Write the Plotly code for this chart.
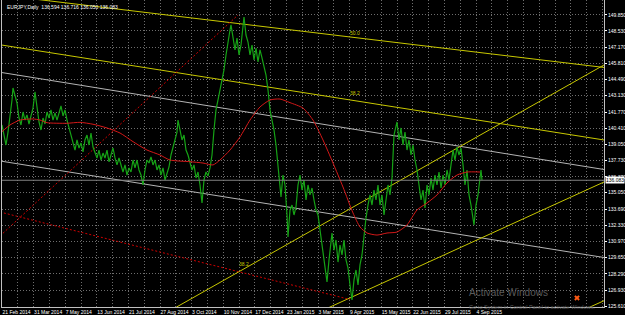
import plotly.graph_objects as go

# ---------------- data (bar index = trading day since 21 Feb 2014) ----------------
close_bars = [0, 2, 4, 6, 8, 10, 11, 13, 15, 17,
              19, 21, 23, 25, 27, 29, 31, 33, 35, 37,
              39, 41, 43, 45, 47, 49, 51, 53, 55, 57,
              59, 61, 63, 65, 67, 69, 71, 73, 75, 77,
              79, 81, 83, 85, 87, 89, 91, 93, 95, 97,
              99, 101, 103, 105, 107, 109, 111, 113, 115, 117,
              119, 121, 123, 125, 127, 129, 131, 133, 135, 137,
              139, 141, 143, 145, 147, 149, 151, 153, 155, 157,
              159, 161, 163, 165, 167, 169, 171, 173, 175, 176,
              178, 180, 182, 184, 186, 188, 190, 192, 194, 196,
              198, 200, 202, 204, 206, 208, 210, 212, 214, 216,
              218, 220, 222, 224, 226, 228, 229, 231, 233, 235,
              237, 239, 241, 242, 244, 246, 248, 250, 252, 254,
              256, 258, 260, 262, 264, 266, 268, 270, 272, 274,
              276, 278, 279, 281, 283, 285, 286, 288, 290, 292,
              294, 296, 298, 300, 302, 304, 306, 308, 310, 312,
              314, 316, 318, 320, 322, 324, 325, 327, 329, 330,
              332, 334, 336, 338, 340, 342, 344, 346, 348, 350,
              352, 354, 356, 358, 360, 362, 364, 366, 368, 370,
              372, 374, 376, 378, 380, 382, 384, 386, 388, 390,
              392, 394, 395, 397, 399, 401, 403, 405, 407, 409,
              411, 413, 415, 417, 419, 421, 423, 425, 427, 429,
              431, 433, 435, 437, 439, 441, 443, 445, 447, 449,
              451, 453, 455, 457, 459, 461, 463, 465, 467, 469,
              471, 472, 474, 476, 478, 479, 480]
close_prices = [140.69, 139.85, 139.02, 140.10, 141.27, 142.77, 143.77, 143.02, 142.52, 141.27,
                140.69, 141.77, 141.10, 141.52, 140.77, 141.44, 142.10, 143.44, 142.35, 140.94,
                140.27, 141.27, 140.77, 141.77, 141.27, 141.94, 141.10, 141.69, 141.10, 141.77,
                142.27, 141.44, 141.94, 141.10, 140.44, 139.85, 139.27, 138.60, 139.44, 138.77,
                139.19, 138.44, 139.44, 139.85, 139.02, 140.02, 138.85, 138.44, 137.94, 138.60,
                137.77, 138.35, 137.94, 138.60, 137.61, 138.19, 138.77, 137.94, 137.36, 137.94,
                137.36, 136.77, 137.36, 136.52, 137.11, 136.77, 137.77, 137.11, 137.77, 136.94,
                136.52, 135.69, 136.94, 137.77, 137.52, 138.02, 137.36, 137.77, 136.94, 137.36,
                136.52, 137.11, 136.11, 136.77, 137.19, 138.19, 138.77, 139.44, 140.10, 141.10,
                140.27, 139.44, 139.85, 138.60, 138.19, 137.61, 136.94, 137.36, 136.27, 136.77,
                135.69, 134.19, 136.11, 136.77, 136.44, 137.11, 138.19, 140.27, 141.94, 142.77,
                143.60, 144.44, 145.27, 146.52, 147.77, 148.60, 149.02, 147.77, 146.94, 147.93,
                146.52, 147.35, 148.60, 149.68, 148.18, 147.60, 146.52, 147.35, 146.10, 147.10,
                145.94, 146.94, 146.27, 145.44, 144.85, 143.60, 141.94, 141.10, 140.27, 139.02,
                137.36, 135.69, 134.69, 136.52, 135.69, 133.19, 131.36, 133.61, 134.02, 133.19,
                133.86, 135.69, 136.52, 135.27, 136.11, 134.44, 135.69, 134.86, 135.44, 134.44,
                133.61, 133.19, 131.94, 130.27, 129.03, 128.19, 127.61, 129.44, 130.69, 131.69,
                130.27, 131.11, 129.27, 130.69, 129.86, 131.11, 129.44, 128.78, 127.36, 126.11,
                127.78, 128.61, 127.36, 129.03, 129.86, 131.52, 132.94, 134.02, 134.86, 134.02,
                135.27, 134.44, 135.69, 134.02, 134.86, 133.19, 134.44, 135.69, 134.86, 136.27,
                139.85, 140.69, 140.94, 139.44, 140.44, 139.02, 140.10, 138.60, 139.44, 138.19,
                139.02, 137.77, 136.94, 135.69, 134.44, 135.27, 133.77, 135.69, 134.86, 136.27,
                135.27, 136.52, 135.69, 136.77, 135.44, 136.52, 135.69, 136.94, 136.11, 137.36,
                138.60, 137.77, 138.85, 138.19, 138.77, 137.36, 135.69, 136.94, 134.86, 134.02,
                132.77, 132.36, 134.02, 134.86, 136.27, 136.94, 136.08]

ma_bars = [0, 8, 18, 31, 38, 45, 65, 78, 91, 105, 118, 131, 145, 158, 168,
           188, 201, 211, 218, 228, 238, 248, 258, 268, 278, 288, 301, 311, 321, 331,
           341, 351, 358, 365, 375, 385, 395, 405, 415, 425, 435, 445, 455, 465, 478]
ma_prices = [140.13, 140.69, 141.10, 141.19, 141.10, 140.88, 140.83, 140.91, 140.75, 140.44,
             140.02, 139.30, 138.60, 138.19, 137.77, 137.63, 137.52, 137.36, 137.77, 138.60,
             139.69, 141.10, 142.19, 142.77, 142.85, 142.55, 142.10, 141.10, 139.44, 137.52,
             135.52, 133.36, 132.19, 131.69, 131.52, 131.69, 131.77, 132.36, 133.61, 134.19,
             134.86, 135.86, 136.52, 136.77, 136.77]

# trend / fibonacci objects: [start bar, end bar], [start price, end price]
fib_top_bars, fib_top_prices = [-2, 602], [151.52, 145.48]
fib_mid_bars, fib_mid_prices = [-2, 602], [147.37, 139.44]
gray_up_bars, gray_up_prices = [-2, 602], [145.08, 136.98]
gray_lo_bars, gray_lo_prices = [-2, 602], [137.69, 129.65]
rise1_bars, rise1_prices = [170, 602], [125.31, 145.69]
rise2_bars, rise2_prices = [310, 602], [124.84, 135.94]
rise3_bars, rise3_prices = [575, 602], [125.04, 126.05]
red_up_bars, red_up_prices = [-2, 236], [131.44, 149.85]
red_dn_bars, red_dn_prices = [-2, 348], [133.44, 126.15]

fib_labels = ["50.0", "38.2", "38.2"]
fib_label_bars = [346, 346, 235]
fib_label_prices = [148.35, 143.35, 129.11]

last_price = 136.083
header = "EURJPY,Daily  136.594 136.716 136.050 136.083"

price_ticks = [149.850, 148.530, 147.170, 145.810, 144.490, 143.130, 141.770, 140.410,
               139.050, 137.730, 136.370, 135.050, 133.690, 132.330, 130.970, 129.650,
               128.290, 126.930, 125.610]
date_labels = ["21 Feb 2014", "31 Mar 2014", "7 May 2014", "13 Jun 2014", "21 Jul 2014",
               "27 Aug 2014", "3 Oct 2014", "10 Nov 2014", "17 Dec 2014", "23 Jan 2015",
               "3 Mar 2015", "9 Apr 2015", "15 May 2015", "22 Jun 2015", "29 Jul 2015",
               "4 Sep 2015"]
date_bars = [0, 32, 63, 95, 126, 158, 190, 221, 253, 284, 316, 348, 379, 411, 442, 474]

# ---------------- figure ----------------
YEL = "#c8c800"
GRAY = "#b4b4b4"
DRED = "#d00000"

fig = go.Figure()

def seg(xs, ys, color, dash=None):
    fig.add_trace(go.Scatter(x=xs, y=ys, mode="lines", hoverinfo="skip",
                             line=dict(color=color, width=1, dash=dash)))

seg(fib_top_bars, fib_top_prices, YEL)
seg(fib_mid_bars, fib_mid_prices, YEL)
seg(gray_up_bars, gray_up_prices, GRAY)
seg(gray_lo_bars, gray_lo_prices, GRAY)
seg(rise1_bars, rise1_prices, YEL)
seg(rise2_bars, rise2_prices, YEL)
seg(rise3_bars, rise3_prices, YEL)
seg(red_up_bars, red_up_prices, DRED, "2px,2px")
seg(red_dn_bars, red_dn_prices, DRED, "2px,2px")

fig.add_trace(go.Scatter(x=close_bars, y=close_prices, mode="lines",
                         line=dict(color="#16a316", width=1.2)))
fig.add_trace(go.Scatter(x=ma_bars, y=ma_prices, mode="lines",
                         line=dict(color="#d41818", width=1, shape="spline", smoothing=0.6)))

# close icon
fig.add_trace(go.Scatter(x=[575], y=[126.28], mode="markers",
                         marker=dict(symbol="x", size=5, color="#ff5a14", line=dict(width=0))))

# current price line
fig.add_shape(type="line", xref="paper", x0=0, x1=1, yref="y", y0=last_price, y1=last_price,
              line=dict(color="#808080", width=1))

# grid positions (every half label interval)
step = (date_bars[-1] - date_bars[0]) / (len(date_bars) - 1) / 2
grid_vals = []
grid_text = []
k = 0
while date_bars[0] + step * k <= 602:
    grid_vals.append(date_bars[0] + step * k)
    if k % 2 == 0 and k // 2 < len(date_labels):
        grid_text.append(date_labels[k // 2])
    else:
        grid_text.append("")
    k += 1

FONT = "Liberation Sans, Arial, sans-serif"

fig.update_layout(
    width=625, height=315,
    margin=dict(l=2, r=21, t=0, b=8),
    paper_bgcolor="black", plot_bgcolor="black",
    showlegend=False,
    font=dict(family=FONT, size=5, color="white"),
    xaxis=dict(range=[0, 602], tickvals=grid_vals, ticktext=grid_text,
               showgrid=True, gridcolor="#6e6e6e", griddash="1px,2px", gridwidth=1,
               ticks="", showline=True, linecolor="#c0c0c0", linewidth=1,
               zeroline=False, ticklabelposition="outside right", tickangle=0,
               automargin=False, ticklabelstandoff=0,
               tickfont=dict(size=5, color="white"), fixedrange=True),
    yaxis=dict(side="right", range=[125.527, 151.099], tickvals=price_ticks,
               ticktext=["%.3f" % v for v in price_ticks],
               showgrid=True, gridcolor="#6e6e6e", griddash="1px,2px", gridwidth=1,
               ticks="outside", ticklen=2, tickcolor="white", automargin=False,
               showline=True, mirror=True, linecolor="#c0c0c0", linewidth=1,
               zeroline=False, tickfont=dict(size=5, color="white"), fixedrange=True),
)

for t, xb, yp in zip(fib_labels, fib_label_bars, fib_label_prices):
    fig.add_annotation(x=xb, y=yp, text=t, showarrow=False, xanchor="left",
                       yanchor="middle", font=dict(size=5, color=YEL))

fig.add_annotation(xref="paper", x=0, yref="paper", y=1, text=header, showarrow=False,
                   xanchor="left", yanchor="top", xshift=3, yshift=-2,
                   font=dict(size=5, color="white"))

fig.add_annotation(xref="paper", x=1, yref="y", y=last_price, text="%.3f" % last_price,
                   showarrow=False, xanchor="left", yanchor="middle", xshift=1,
                   bgcolor="white", borderpad=0, font=dict(size=5, color="black"))

fig.add_annotation(xref="x", x=465, yref="y", y=126.75, text="Activate Windows",
                   showarrow=False, xanchor="left", yanchor="middle",
                   font=dict(size=10, color="#5a5a5a"))
fig.add_annotation(xref="x", x=465, yref="paper", y=0, text="Go to System in Control Panel to activate Windows.",
                   showarrow=False, xanchor="left", yanchor="middle",
                   font=dict(size=5.5, color="#5a5a5a"))

fig.write_html("out.html")
